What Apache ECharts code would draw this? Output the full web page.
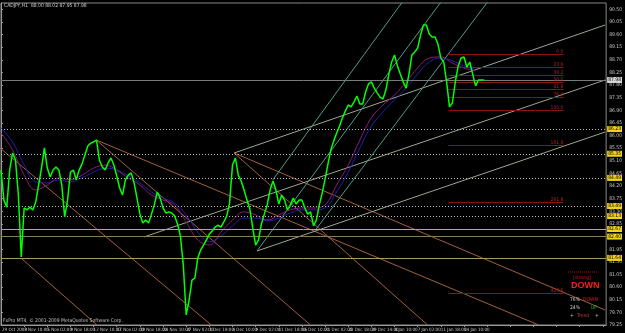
<!DOCTYPE html>
<html><head><meta charset="utf-8">
<script src="https://cdn.jsdelivr.net/npm/echarts@6/dist/echarts.min.js"></script>
<style>html,body{margin:0;padding:0;background:#000}#c{width:625px;height:333px}</style>
</head><body><div id="c"></div>
<script>
// ---- data ----
const timeLabels = ["29 Oct 2009","2 Nov 10:00","5 Nov 02:00","9 Nov 18:00","12 Nov 10:00","17 Nov 02:00","19 Nov 18:00","24 Nov 10:00","27 Nov 02:00","1 Dec 18:00","4 Dec 10:00","9 Dec 02:00","11 Dec 18:00","16 Dec 10:00","21 Dec 02:00","23 Dec 18:00","29 Dec 14:00","4 Jan 10:00","7 Jan 02:00","11 Jan 18:00","14 Jan 10:00"];
const barsPerLabel = 64;      // H1 bars between time labels
const priceStep = 8;          // bars between price samples
const closePrices = [
84.77,83.70,83.45,84.77,85.38,85.13,83.88,81.67,83.42,83.35,
83.45,83.35,83.63,84.24,84.84,85.56,84.84,84.52,84.77,84.88,
84.77,84.24,83.10,83.70,84.70,84.77,84.42,84.77,84.99,85.31,
85.63,85.73,85.77,85.84,85.13,84.88,84.77,85.02,85.20,84.95,
84.56,84.13,83.88,84.42,84.59,84.67,84.31,83.77,83.20,82.88,
82.99,82.88,83.20,83.53,83.99,83.77,83.42,83.24,83.28,83.24,
83.13,82.85,82.42,81.39,79.61,80.14,80.85,80.92,81.64,81.92,
82.10,82.28,82.49,82.60,82.74,82.81,82.74,82.92,83.13,83.60,
84.95,85.20,84.59,84.38,84.06,83.70,83.38,82.71,82.10,82.28,
82.85,83.20,83.53,84.06,84.38,84.06,83.56,83.88,83.70,83.35,
83.53,83.77,83.56,83.70,83.70,83.42,83.20,83.28,82.78,82.99,
83.53,83.95,84.45,84.99,85.49,85.81,86.09,86.34,86.63,86.87,
87.09,87.02,87.20,87.41,87.12,87.12,87.55,87.84,87.91,87.69,
87.52,87.37,87.30,87.62,88.16,88.62,88.87,88.48,88.19,87.91,
87.69,88.19,88.87,88.98,89.12,89.58,89.94,89.94,89.62,89.51,
89.51,89.26,88.76,88.62,87.91,87.02,87.16,87.91,88.48,88.76,
88.80,88.44,88.62,88.19,87.77,87.98,87.98,87.98];
const maStep = 32;
const maPurple = [86.09,85.49,84.59,84.06,84.24,84.49,84.42,84.59,84.84,84.95,84.77,84.49,84.24,83.88,83.70,83.53,82.92,82.28,82.10,82.56,82.99,83.28,83.17,82.99,83.17,83.35,83.42,83.42,83.53,84.24,84.95,85.84,86.63,87.09,87.44,87.91,88.41,88.76,88.80,88.58,88.41,88.30];
const maBlue = [86.27,85.77,84.95,84.35,84.31,84.42,84.35,84.49,84.70,84.84,84.77,84.56,84.31,83.99,83.77,83.60,83.17,82.56,82.21,82.42,82.78,83.06,83.06,82.96,83.06,83.24,83.35,83.35,83.42,83.99,84.70,85.56,86.34,86.84,87.27,87.69,88.19,88.62,88.76,88.66,88.48,88.34];
const dottedLevels = [86.23, 85.35, 84.49, 83.49, 83.13];
const solidLevels = [82.67, 82.40, 81.64];
const currentPrice = 87.98;
const fibHigh = 88.905, fibLow = 86.892;
const fibRatios = [0, 23.6, 38.2, 50, 61.8, 76.4, 100, 161.8, 261.8, 423.6];
const fibBars = [1237, 1555];
// trend lines: [bar1, price1, bar2, price2]
const greyLines = [[644.5,85.378,1670.3,89.938],[395,82.385,1670.3,87.979],[707.6,81.886,1670.3,86.126]];
const tealLines = [[707.6,81.886,1220.5,90.829],[869.4,82.635,1349.4,90.829],[751.5,84.42,1113.6,90.829]];
const brownLines = [[-2.7,85.556,581.5,79.25],[54.9,81.637,271.5,79.18],[263.3,85.841,855.7,79.25],[263.3,85.841,1486.6,79.25],[644.5,85.378,1179.4,79.25],[644.5,85.378,1670.3,79.784]];
const titleText = "CADJPY,H1  88.00 88.02 87.95 87.98";
const footerText = "FxPro MT4, \u00a9 2001-2009 MetaQuotes Software Corp.";

// ---- chart ----
const FONT = '"Liberation Sans Narrow","DejaVu Sans Condensed","Liberation Sans"';
const chart = echarts.init(document.getElementById('c'), null, {renderer:'canvas'});
const series = [];
function seg(arr, color, type){
  arr.forEach(l => series.push({type:'line', data:[[l[0],l[1]],[l[2],l[3]]], showSymbol:false, silent:true,
    lineStyle:{color:color, width:1, type:type||'solid'}, z:1, animation:false}));
}
seg(brownLines, '#a0603c');
seg(greyLines, '#9aa890');
seg(tealLines, '#4f9a8a');

series.push({type:'line', data:maBlue.map((v,i)=>[i*maStep,v]), showSymbol:false, silent:true, smooth:0.4,
  lineStyle:{color:'#2020b0', width:1}, z:2, animation:false});
series.push({type:'line', data:maPurple.map((v,i)=>[i*maStep,v]), showSymbol:false, silent:true, smooth:0.4,
  lineStyle:{color:'#8a1a7a', width:1}, z:2, animation:false});

const lvlLabel = (bg, fg) => ({show:true, position:'end', distance:1, formatter:p=>p.value.toFixed(2),
  backgroundColor:bg, color:fg, fontSize:5, fontFamily:FONT, padding:[1,1,0,1]});
const hLines = [];
dottedLevels.forEach(v => hLines.push({yAxis:v, lineStyle:{color:'#b8b8b8', width:1, type:[1,2]}, label:lvlLabel('#f0d020','#000')}));
solidLevels.forEach((v,i) => hLines.push({yAxis:v, lineStyle:{color:['#b8a878','#8a7a58','#a89868'][i], width:1, type:'solid'}, label:lvlLabel('#f0d020','#000')}));
hLines.push({yAxis:currentPrice, lineStyle:{color:'#7a7a7a', width:1, type:'solid'}, label:lvlLabel('#d8d8d8','#000')});

const fibData = fibRatios.map(r => {
  const p = fibHigh - (fibHigh - fibLow) * r / 100;
  return [{coord:[fibBars[0], p], lineStyle:{color:'#8a1414', width:1, type:'solid'},
           label:{show:true, position:'insideEndTop', distance:0, formatter:r.toFixed(1), color:'#b02020', fontSize:5, fontFamily:FONT}},
          {coord:[fibBars[1], p]}];
});

series.push({type:'line', data:closePrices.map((v,i)=>[i*priceStep,v]), showSymbol:false, silent:true,
  lineStyle:{color:'#00ff00', width:1.5}, z:5, animation:false,
  markLine:{symbol:'none', silent:true, animation:false, data:hLines.concat(fibData)}});

const g = [];
const txt = (x,y,t,c,fs,bold,extra) => g.push(Object.assign({type:'text', left:x, top:y, silent:true, z:100,
  style:{text:t, fill:c, font:(bold?'bold ':'')+fs+'px '+FONT}}, extra||{}));
txt(4,3,titleText,'#d0d0d0',5);
txt(3,318,footerText,'#c0c0c0',5);
txt(2,327,timeLabels[0],'#c8c8c8',4.5);
g.push({type:'line', silent:true, z:100, shape:{x1:568,y1:272,x2:598,y2:272}, style:{stroke:'#a01414', lineWidth:1, lineDash:[1,1]}});
txt(573,275,'[strong]','#c02020',5);
g.push({type:'text', left:571, top:281, silent:true, z:100, style:{text:'DOWN', fill:'#ff1a1a', font:'bold 9px "Liberation Sans"', shadowBlur:4, shadowColor:'#ff0000'}});
txt(570,297,'76%','#d0d0d0',5);
txt(583,297,'DOWN','#e02020',5);
txt(570,305,'24%','#d0d0d0',5);
txt(591,305,'UP','#20c020',5);
txt(570,313,'+','#c0c0c0',5);
txt(577,313,'Trend','#c04040',5);
txt(595,313,'+','#c0c0c0',5);

chart.setOption({
  backgroundColor:'#000',
  animation:false,
  grid:{left:1, right:14, top:3, bottom:8, show:true, borderColor:'#8a8a8a', borderWidth:1, backgroundColor:'#000'},
  xAxis:{type:'value', min:0, max:1673, interval:barsPerLabel, position:'bottom',
    axisLine:{show:true, lineStyle:{color:'#9a9a9a'}}, axisTick:{show:true, length:2, lineStyle:{color:'#9a9a9a'}},
    splitLine:{show:false},
    axisLabel:{color:'#c8c8c8', fontSize:4.5, fontFamily:FONT, align:'left', margin:2, showMinLabel:false, showMaxLabel:false, hideOverlap:false,
      formatter:v=>{const k=Math.round(v/barsPerLabel); return (k>0 && Math.abs(v-k*barsPerLabel)<0.01) ? (timeLabels[k]||'') : '';}}},
  yAxis:{type:'value', position:'right', min:79.25, max:90.722, interval:0.45, scale:true,
    axisLine:{show:true, lineStyle:{color:'#9a9a9a'}}, axisTick:{show:true, length:2, lineStyle:{color:'#9a9a9a'}},
    splitLine:{show:false},
    axisLabel:{color:'#c8c8c8', fontSize:5, fontFamily:FONT, margin:3, showMaxLabel:false, formatter:v=>v.toFixed(2)}},
  series:series,
  graphic:g
});
</script></body></html>
